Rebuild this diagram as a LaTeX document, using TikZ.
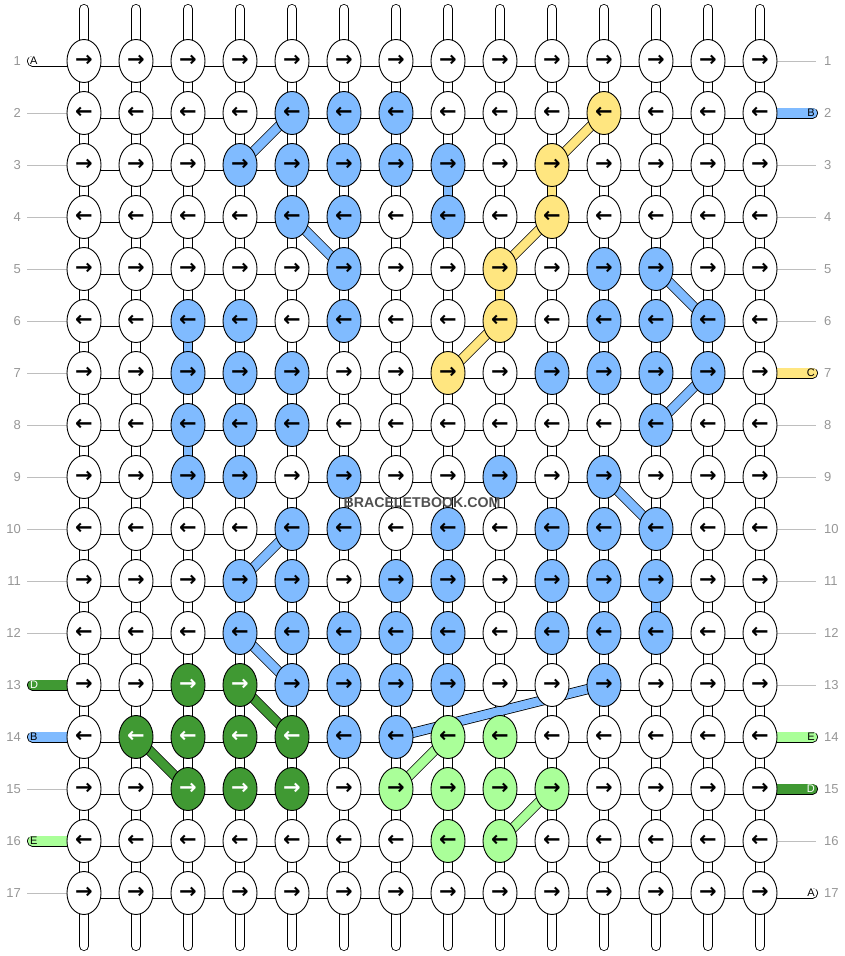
\documentclass[tikz,border=0pt]{standalone}
\usepackage{fontspec}
\setmainfont{Liberation Sans}
\newfontfamily\arrowfont{DejaVu Sans}
\usetikzlibrary{shapes.geometric}
\definecolor{cw}{RGB}{255,255,255}
\definecolor{cb}{RGB}{128,187,255}
\definecolor{cy}{RGB}{255,230,128}
\definecolor{cd}{RGB}{64,153,51}
\definecolor{cl}{RGB}{170,255,153}
\colorlet{tw}{black}
\colorlet{tb}{black}
\colorlet{ty}{black}
\colorlet{td}{white}
\colorlet{tl}{black}
\definecolor{labgray}{RGB}{150,150,150}
\definecolor{rulegray}{RGB}{190,190,190}
\definecolor{coregray}{RGB}{175,175,175}
\definecolor{wmgray}{RGB}{80,80,80}
\pgfdeclarelayer{bg}
\pgfdeclarelayer{bands}
\pgfsetlayers{bg,bands,main}
\begin{document}
\begin{tikzpicture}[x=1pt,y=-1pt,
  knot/.style={ellipse, draw, line width=0.9pt, minimum width=34pt, minimum height=43pt,
    inner sep=0pt, font=\arrowfont\bfseries\fontsize{21}{21}\selectfont},
  vconn/.style={line width=0.8pt, double=white, double distance=8.4pt},
  vcore/.style={coregray, line width=0.5pt, double=white, double distance=1.6pt},
  tube/.style={vconn, line cap=round},
  hconn/.style={line width=0.8pt, double=white, double distance=9.4pt},
  vcol/.style={line width=0.8pt, double=#1, double distance=8.4pt},
  band/.style={line width=0.8pt, double=#1, double distance=8.6pt},
  stube/.style={line width=0.8pt, double=#1, double distance=9.4pt, line cap=round},
  rowline/.style={rulegray, line width=0.8pt},
  rownum/.style={labgray, font=\fontsize{13}{13}\selectfont, inner sep=0pt},
  sidelab/.style={font=\fontsize{11}{11}\selectfont, inner sep=0pt},
  wm/.style={wmgray, font=\bfseries\fontsize{14.2}{14.2}\selectfont, inner sep=1pt}
]
\useasboundingbox (0,0) rectangle (844,956);

% knots
\foreach \r/\cols in {
  1/{w,w,w,w,w,w,w,w,w,w,w,w,w,w},
  2/{w,w,w,w,b,b,b,w,w,w,y,w,w,w},
  3/{w,w,w,b,b,b,b,b,w,y,w,w,w,w},
  4/{w,w,w,w,b,b,w,b,w,y,w,w,w,w},
  5/{w,w,w,w,w,b,w,w,y,w,b,b,w,w},
  6/{w,w,b,b,w,b,w,w,y,w,b,b,b,w},
  7/{w,w,b,b,b,w,w,y,w,b,b,b,b,w},
  8/{w,w,b,b,b,w,w,w,w,w,w,b,w,w},
  9/{w,w,b,b,w,b,w,w,b,w,b,w,w,w},
  10/{w,w,w,w,b,b,w,b,w,b,b,b,w,w},
  11/{w,w,w,b,b,w,b,b,w,b,b,b,w,w},
  12/{w,w,w,b,b,b,b,b,w,b,b,b,w,w},
  13/{w,w,d,d,b,b,b,b,w,w,b,w,w,w},
  14/{w,d,d,d,d,b,b,l,l,w,w,w,w,w},
  15/{w,w,d,d,d,w,l,l,l,l,w,w,w,w},
  16/{w,w,w,w,w,w,w,l,l,w,w,w,w,w},
  17/{w,w,w,w,w,w,w,w,w,w,w,w,w,w}}{
  \foreach \col [count=\c] in \cols {
    \pgfmathsetmacro\xx{84+52*(\c-1)}
    \pgfmathsetmacro\yy{61+52*(\r-1)}
    \ifodd\r\def\arr{→}\else\def\arr{←}\fi
    \node[knot, fill=c\col, text=t\col] (k-\c-\r) at (\xx,\yy) {\arr};
  }
}

% row numbers
\foreach \r in {1,...,17}{
  \pgfmathsetmacro\yy{61+52*(\r-1)}
  \node[rownum, anchor=east] (ln-\r) at (21,\yy) {\r};
  \node[rownum, anchor=west] (rn-\r) at (824,\yy) {\r};
  \coordinate (lg-\r) at (27,\yy);
  \coordinate (rg-\r) at (816,\yy);
  \coordinate (lt-\r) at (32.5,\yy);
  \coordinate (rt-\r) at (812.5,\yy);
}

\begin{pgfonlayer}{bg}
  % vertical strings and top/bottom ends
  \foreach \c in {1,...,14}{
    \pgfmathsetmacro\xx{84+52*(\c-1)}
    \coordinate (t-\c) at (\xx,9);
    \coordinate (b-\c) at (\xx,946);
    \draw[tube] (t-\c) -- (k-\c-1.center);
    \draw[vcore] (t-\c) -- (k-\c-1.center);
    \draw[tube] (k-\c-17.center) -- (b-\c);
    \draw[vcore] (k-\c-17.center) -- (b-\c);
    \foreach \r in {1,...,16}{
      \pgfmathtruncatemacro\rn{\r+1}
      \draw[vconn] (k-\c-\r.center) -- (k-\c-\rn.center);
      \draw[vcore] (k-\c-\r.center) -- (k-\c-\rn.center);
    }
  }
  % horizontal links
  \foreach \r in {1,...,17}{
    \foreach \c in {1,...,13}{
      \pgfmathtruncatemacro\cn{\c+1}
      \draw[hconn] (k-\c-\r.center) -- (k-\cn-\r.center);
    }
  }
  % coloured vertical links
  \draw[vcol=cb] (k-8-3.center) -- (k-8-4.center);
  \draw[vcol=cy] (k-10-3.center) -- (k-10-4.center);
  \draw[vcol=cy] (k-9-5.center) -- (k-9-6.center);
  \draw[vcol=cb] (k-3-6.center) -- (k-3-7.center);
  \draw[vcol=cb] (k-3-8.center) -- (k-3-9.center);
  \draw[vcol=cb] (k-12-11.center) -- (k-12-12.center);
  % side lines
  \foreach \r in {2,...,12,15,17}{ \draw[rowline] (lg-\r) -- (k-1-\r.west); }
  \foreach \r in {1,3,4,5,6,8,9,10,11,12,13,16}{ \draw[rowline] (k-14-\r.east) -- (rg-\r); }
  % side strings
  \draw[stube=cw] (lt-1) -- (k-1-1.center);
  \draw[stube=cd] (lt-13) -- (k-1-13.center);
  \draw[stube=cb] (lt-14) -- (k-1-14.center);
  \draw[stube=cl] (lt-16) -- (k-1-16.center);
  \draw[stube=cb] (k-14-2.center) -- (rt-2);
  \draw[stube=cy] (k-14-7.center) -- (rt-7);
  \draw[stube=cl] (k-14-14.center) -- (rt-14);
  \draw[stube=cd] (k-14-15.center) -- (rt-15);
  \draw[stube=cw] (k-14-17.center) -- (rt-17);
\end{pgfonlayer}

\begin{pgfonlayer}{bands}
  \draw[band=cb] (k-5-2.center) -- (k-4-3.center);
  \draw[band=cb] (k-5-4.center) -- (k-6-5.center);
  \draw[band=cb] (k-12-5.center) -- (k-13-6.center);
  \draw[band=cb] (k-13-7.center) -- (k-12-8.center);
  \draw[band=cb] (k-11-9.center) -- (k-12-10.center);
  \draw[band=cb] (k-5-10.center) -- (k-4-11.center);
  \draw[band=cb] (k-4-12.center) -- (k-5-13.center);
  \draw[band=cb] (k-7-14.center) -- (k-11-13.center);
  \draw[band=cy] (k-11-2.center) -- (k-10-3.center);
  \draw[band=cy] (k-10-4.center) -- (k-9-5.center);
  \draw[band=cy] (k-9-6.center) -- (k-8-7.center);
  \draw[band=cd] (k-4-13.center) -- (k-5-14.center);
  \draw[band=cd] (k-2-14.center) -- (k-3-15.center);
  \draw[band=cl] (k-8-14.center) -- (k-7-15.center);
  \draw[band=cl] (k-10-15.center) -- (k-9-16.center);
\end{pgfonlayer}

% side labels
\node[sidelab, anchor=west] (sl-1) at (30,61) {A};
\node[sidelab, anchor=west, text=white] (sl-13) at (30,685) {D};
\node[sidelab, anchor=west] (sl-14) at (30,737) {B};
\node[sidelab, anchor=west] (sl-16) at (30,841) {E};
\node[sidelab, anchor=east] (sr-2) at (815,113) {B};
\node[sidelab, anchor=east] (sr-7) at (815,373) {C};
\node[sidelab, anchor=east] (sr-14) at (815,737) {E};
\node[sidelab, anchor=east, text=white] (sr-15) at (815,789) {D};
\node[sidelab, anchor=east] (sr-17) at (815,893) {A};

% watermark
\node[wm] (wm) at (422,503) {BRACELETBOOK.COM};
\end{tikzpicture}
\end{document}
